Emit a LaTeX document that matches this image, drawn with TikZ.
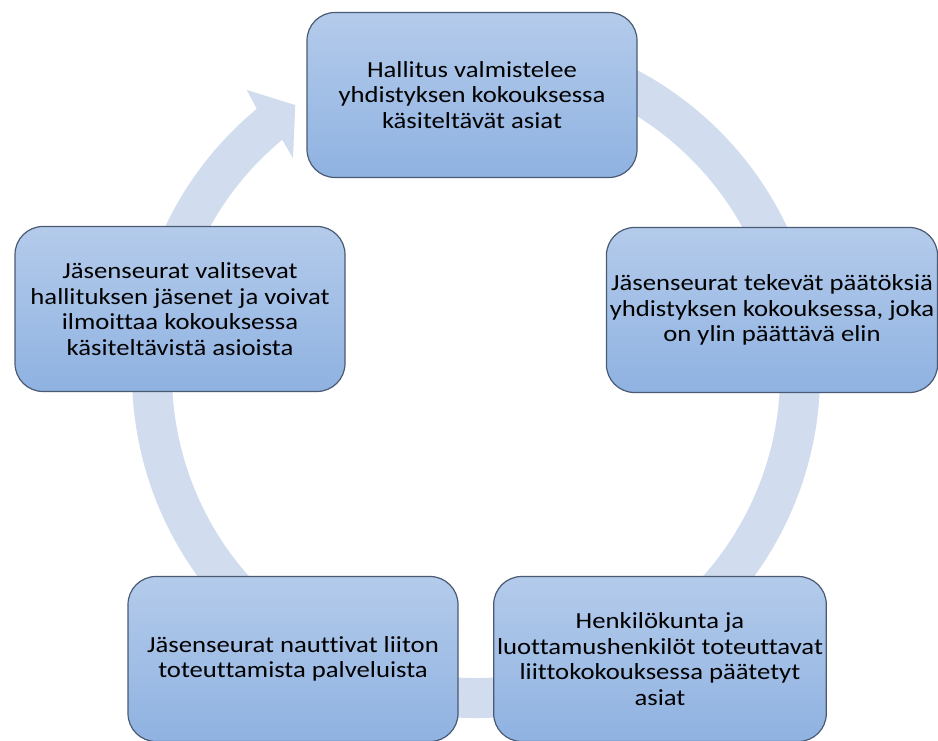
\documentclass[tikz,border=0pt]{standalone}
\usepackage{fontspec}
\setmainfont{Carlito}[FakeStretch=1.16,Ligatures=NoCommon]
\definecolor{rengas}{RGB}{209,221,239}
\definecolor{laatikkoA}{RGB}{180,203,235}
\definecolor{laatikkoB}{RGB}{143,178,225}
\definecolor{reuna}{RGB}{74,90,115}
\tikzset{laatikko/.style={draw=reuna,line width=1.2pt,rounded corners=28pt,
  top color=laatikkoA,bottom color=laatikkoB,
  minimum width=330pt,minimum height=165pt,align=center,
  font=\fontsize{23}{25.5}\selectfont,text=black}}
\begin{document}
\begin{tikzpicture}[x=1pt,y=1pt]
\useasboundingbox (0,0) rectangle (938,740);
\def\rk{324}
\def\lw{40}
\coordinate (C) at (476,366);

\draw[rengas,line width=\lw pt] ([shift={(100:\rk)}]C)
	arc[start angle=100,end angle=-231,radius=\rk];
\fill[rengas] ([shift={(128.9:365)}]C) -- ([shift={(123.9:\rk)}]C)
	-- ([shift={(130.3:283)}]C) -- ([shift={(129.6:304)}]C)
	-- ([shift={(129.6:344)}]C) -- cycle;

\node[laatikko] (hallitus) at (472,645) {Hallitus valmistelee\\yhdistyksen kokouksessa\\käsiteltävät asiat};
\node[laatikko] (paatos) at (772,430) {Jäsenseurat tekevät päätöksiä\\yhdistyksen kokouksessa, joka\\on ylin päättävä elin};
\node[laatikko] (toteutus) at (660,81) {Henkilökunta ja\\luottamushenkilöt toteuttavat\\liittokokouksessa päätetyt\\asiat};
\node[laatikko] (palvelu) at (293,81) {Jäsenseurat nauttivat liiton\\toteuttamista palveluista};
\node[laatikko] (valinta) at (180,431) {Jäsenseurat valitsevat\\hallituksen jäsenet ja voivat\\ilmoittaa kokouksessa\\käsiteltävistä asioista};

\end{tikzpicture}
\end{document}
